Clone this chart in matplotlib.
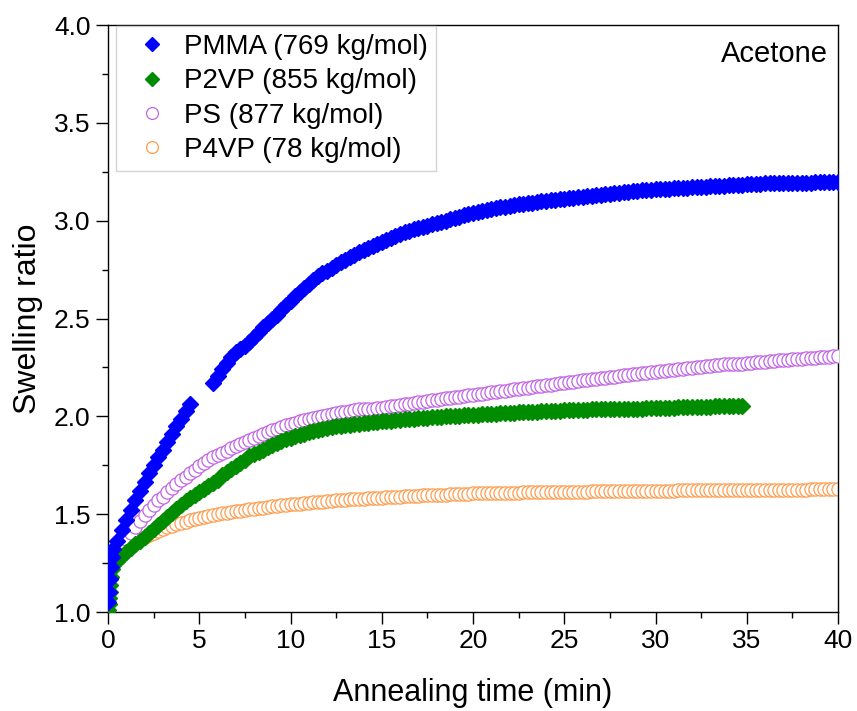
import numpy as np
import matplotlib
matplotlib.use("Agg")
import matplotlib.pyplot as plt
from matplotlib.ticker import MultipleLocator, FormatStrFormatter

plt.rcParams['font.family'] = ['Liberation Sans', 'DejaVu Sans']

# swelling ratio vs annealing time in acetone vapour
# readings every 0.25 min, plus the first few points taken during the jump at t=0
step = 0.25

pmma_t0 = [0.0, 0.05, 0.1, 0.15, 0.2]
pmma_y0 = [1.05, 1.10, 1.17, 1.23, 1.28]
pmma_y = [
    1.32, 1.365, 1.42, 1.47, 1.52, 1.57, 1.62, 1.665, 1.71, 1.75,
    1.79, 1.83, 1.87, 1.91, 1.95, 1.985, 2.025, 2.065, np.nan, np.nan,
    np.nan, np.nan, 2.17, 2.205, 2.24, 2.275, 2.305, 2.33, 2.345, 2.36,
    2.38, 2.405, 2.43, 2.455, 2.475, 2.495, 2.52, 2.545, 2.57, 2.59,
    2.615, 2.635, 2.655, 2.675, 2.695, 2.715, 2.73, 2.745, 2.76, 2.775,
    2.79, 2.80, 2.815, 2.825, 2.84, 2.85, 2.86, 2.87, 2.88, 2.89,
    2.90, 2.91, 2.92, 2.93, 2.94, 2.945, 2.955, 2.96, 2.97, 2.975,
    2.985, 2.99, 2.995, 3.0, 3.01, 3.015, 3.02, 3.03, 3.035, 3.04,
    3.045, 3.05, 3.055, 3.06, 3.065, 3.07, 3.07, 3.075, 3.08, 3.085,
    3.085, 3.09, 3.09, 3.095, 3.10, 3.10, 3.105, 3.105, 3.11, 3.11,
    3.115, 3.115, 3.12, 3.12, 3.125, 3.125, 3.13, 3.13, 3.135, 3.135,
    3.14, 3.14, 3.145, 3.145, 3.15, 3.15, 3.155, 3.155, 3.155, 3.16,
    3.16, 3.16, 3.16, 3.165, 3.165, 3.165, 3.165, 3.17, 3.17, 3.17,
    3.17, 3.175, 3.175, 3.175, 3.175, 3.18, 3.18, 3.18, 3.18, 3.185,
    3.185, 3.185, 3.185, 3.19, 3.19, 3.19, 3.19, 3.19, 3.195, 3.195,
    3.195, 3.195, 3.195, 3.195, 3.2, 3.2, 3.2, 3.2, 3.2, 3.2,
]

p2vp_t0 = [0.0, 0.03, 0.06, 0.09, 0.12, 0.15, 0.2]
p2vp_y0 = [1.01, 1.04, 1.07, 1.10, 1.14, 1.18, 1.22]
p2vp_y = [
    1.24, 1.26, 1.285, 1.305, 1.325, 1.345, 1.365, 1.385, 1.405, 1.425,
    1.445, 1.465, 1.485, 1.505, 1.525, 1.545, 1.565, 1.585, 1.60, 1.615,
    1.63, 1.645, 1.66, 1.675, 1.70, 1.715, 1.73, 1.745, 1.76, 1.775,
    1.795, 1.81, 1.82, 1.83, 1.845, 1.855, 1.865, 1.875, 1.885, 1.89,
    1.90, 1.905, 1.91, 1.92, 1.925, 1.93, 1.935, 1.94, 1.945, 1.95,
    1.95, 1.955, 1.955, 1.96, 1.96, 1.965, 1.965, 1.97, 1.97, 1.975,
    1.975, 1.975, 1.98, 1.98, 1.985, 1.985, 1.985, 1.99, 1.99, 1.99,
    1.995, 1.995, 1.995, 2.0, 2.0, 2.0, 2.0, 2.005, 2.005, 2.005,
    2.005, 2.01, 2.01, 2.01, 2.01, 2.015, 2.015, 2.015, 2.015, 2.02,
    2.02, 2.02, 2.02, 2.02, 2.025, 2.025, 2.025, 2.025, 2.025, 2.03,
    2.03, 2.03, 2.03, 2.03, 2.03, 2.035, 2.035, 2.035, 2.035, 2.035,
    2.035, 2.04, 2.04, 2.04, 2.04, 2.04, 2.04, 2.045, 2.045, 2.045,
    2.045, 2.045, 2.045, 2.045, 2.05, 2.05, 2.05, 2.05, 2.05, 2.05,
    2.05, 2.05, 2.055, 2.055, 2.055, 2.055, 2.055, 2.055, 2.055,
]

ps_t0 = [0.05, 0.15]
ps_y0 = [1.22, 1.25]
ps_y = [
    1.28, 1.315, 1.345, 1.375, 1.405, 1.435, 1.465, 1.495, 1.52, 1.545,
    1.57, 1.59, 1.615, 1.635, 1.655, 1.675, 1.69, 1.71, 1.725, 1.745,
    1.76, 1.775, 1.79, 1.80, 1.815, 1.825, 1.84, 1.85, 1.86, 1.87,
    1.88, 1.89, 1.90, 1.91, 1.92, 1.93, 1.935, 1.945, 1.955, 1.96,
    1.965, 1.975, 1.98, 1.985, 1.99, 1.995, 2.0, 2.005, 2.01, 2.015,
    2.02, 2.02, 2.025, 2.03, 2.035, 2.035, 2.04, 2.04, 2.045, 2.045,
    2.05, 2.055, 2.055, 2.06, 2.065, 2.065, 2.07, 2.075, 2.075, 2.08,
    2.085, 2.085, 2.09, 2.095, 2.095, 2.10, 2.10, 2.105, 2.11, 2.11,
    2.115, 2.115, 2.12, 2.125, 2.125, 2.13, 2.13, 2.135, 2.14, 2.14,
    2.145, 2.145, 2.15, 2.155, 2.155, 2.16, 2.16, 2.165, 2.17, 2.17,
    2.175, 2.175, 2.18, 2.185, 2.185, 2.19, 2.19, 2.195, 2.195, 2.20,
    2.20, 2.205, 2.21, 2.21, 2.215, 2.215, 2.22, 2.22, 2.225, 2.225,
    2.23, 2.23, 2.235, 2.235, 2.24, 2.24, 2.245, 2.245, 2.25, 2.25,
    2.255, 2.255, 2.26, 2.26, 2.265, 2.265, 2.27, 2.27, 2.27, 2.275,
    2.275, 2.28, 2.28, 2.28, 2.285, 2.285, 2.29, 2.29, 2.29, 2.295,
    2.295, 2.295, 2.30, 2.30, 2.30, 2.305, 2.305, 2.305, 2.31, 2.31,
]

p4vp_t0 = [0.05, 0.15]
p4vp_y0 = [1.22, 1.25]
p4vp_y = [
    1.27, 1.295, 1.315, 1.33, 1.345, 1.36, 1.372, 1.385, 1.395, 1.405,
    1.415, 1.425, 1.433, 1.44, 1.448, 1.455, 1.462, 1.468, 1.474, 1.48,
    1.485, 1.49, 1.495, 1.50, 1.504, 1.508, 1.512, 1.515, 1.518, 1.522,
    1.525, 1.528, 1.531, 1.534, 1.537, 1.54, 1.543, 1.545, 1.548, 1.55,
    1.552, 1.554, 1.556, 1.558, 1.56, 1.562, 1.564, 1.566, 1.568, 1.57,
    1.571, 1.573, 1.575, 1.576, 1.578, 1.58, 1.581, 1.582, 1.584, 1.585,
    1.586, 1.587, 1.588, 1.59, 1.591, 1.592, 1.593, 1.595, 1.596, 1.597,
    1.598, 1.599, 1.60, 1.60, 1.601, 1.602, 1.603, 1.604, 1.605, 1.606,
    1.606, 1.607, 1.607, 1.608, 1.608, 1.609, 1.609, 1.61, 1.61, 1.61,
    1.611, 1.611, 1.612, 1.612, 1.612, 1.613, 1.613, 1.613, 1.614, 1.614,
    1.614, 1.615, 1.615, 1.615, 1.615, 1.616, 1.616, 1.616, 1.617, 1.617,
    1.617, 1.617, 1.618, 1.618, 1.618, 1.618, 1.619, 1.619, 1.619, 1.619,
    1.62, 1.62, 1.62, 1.62, 1.621, 1.621, 1.621, 1.621, 1.622, 1.622,
    1.622, 1.622, 1.622, 1.623, 1.623, 1.623, 1.623, 1.624, 1.624, 1.624,
    1.624, 1.624, 1.625, 1.625, 1.625, 1.625, 1.625, 1.626, 1.626, 1.626,
    1.626, 1.626, 1.626, 1.627, 1.627, 1.627, 1.627, 1.627, 1.627, 1.628,
]

labels = ["PMMA (769 kg/mol)", "P2VP (855 kg/mol)", "PS (877 kg/mol)", "P4VP (78 kg/mol)"]
solvent = "Acetone"


def series(t0, y0, y):
    t = np.concatenate([t0, step * np.arange(1, len(y) + 1)])
    return t, np.concatenate([y0, y])


fig = plt.figure(figsize=(8.57, 7.11), dpi=100)
ax = fig.add_axes([108 / 857, 1 - 612 / 711, 730 / 857, 587 / 711])

t, y = series(p4vp_t0, p4vp_y0, p4vp_y)
h4, = ax.plot(t, y, 'o', ms=9.5, mfc='white', mec='#FF9C4C', mew=0.9, zorder=2, label=labels[3])
t, y = series(ps_t0, ps_y0, ps_y)
h3, = ax.plot(t, y, 'o', ms=9.5, mfc='white', mec='#C263E6', mew=0.9, zorder=3, label=labels[2])
t, y = series(p2vp_t0, p2vp_y0, p2vp_y)
h2, = ax.plot(t, y, 'D', ms=8, color='#008C00', mec='#008C00', zorder=4, label=labels[1])
t, y = series(pmma_t0, pmma_y0, pmma_y)
h1, = ax.plot(t, y, 'D', ms=8, color='#0000FF', mec='#0000FF', zorder=5, label=labels[0])

ax.set_xlim(0, 40)
ax.set_ylim(1.0, 4.0)
ax.xaxis.set_major_locator(MultipleLocator(5))
ax.xaxis.set_minor_locator(MultipleLocator(2.5))
ax.yaxis.set_major_locator(MultipleLocator(0.5))
ax.yaxis.set_minor_locator(MultipleLocator(0.25))
ax.yaxis.set_major_formatter(FormatStrFormatter('%.1f'))
ax.tick_params(which='both', direction='out', top=False, right=False, width=1.0, labelsize=19, pad=4)
ax.tick_params(which='major', length=8.5)
ax.tick_params(which='minor', length=4)
for s in ax.spines.values():
    s.set_linewidth(1.0)

ax.set_xlabel("Annealing time (min)", fontsize=22, labelpad=18)
ax.set_ylabel("Swelling ratio", fontsize=23, labelpad=8)

leg = ax.legend(handles=[h1, h2, h3, h4], loc='upper left', bbox_to_anchor=(0.011, 0.999),
                borderaxespad=0, fontsize=20, frameon=True, fancybox=False,
                handlelength=2.0, handletextpad=0.15, borderpad=0.3, labelspacing=0.3,
                markerscale=0.9)
leg.get_frame().set_edgecolor('#C8C8C8')
leg.get_frame().set_linewidth(1.0)

ax.text(0.986, 0.937, solvent, transform=ax.transAxes, ha='right', va='baseline', fontsize=21)

fig.savefig("out.png", dpi=100)
